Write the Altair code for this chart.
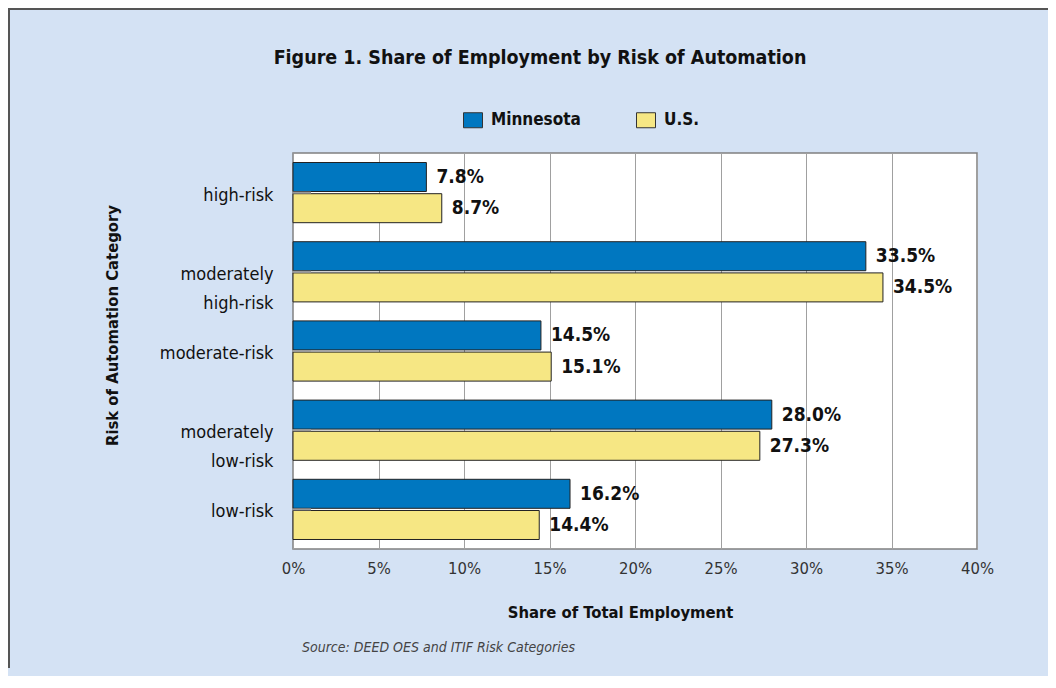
import altair as alt
import pandas as pd

categories = ["high-risk", "moderately high-risk", "moderate-risk", "moderately low-risk", "low-risk"]
series = ["Minnesota", "U.S."]
minnesota = [7.8, 33.5, 14.5, 28.0, 16.2]
us = [8.7, 34.5, 15.1, 27.3, 14.4]
x_ticks = [0, 5, 10, 15, 20, 25, 30, 35, 40]
colors = ["#0077c0", "#f6e784"]

title_text = "Figure 1. Share of Employment by Risk of Automation"
source_text = "Source: DEED OES and ITIF Risk Categories"

rows = []
for c, m, u in zip(categories, minnesota, us):
    rows.append({"category": c, "region": "Minnesota", "share": m})
    rows.append({"category": c, "region": "U.S.", "share": u})
df = pd.DataFrame(rows)

FONT = "Liberation Sans Narrow, DejaVu Sans Condensed, sans-serif"

base = alt.Chart(df)

y_axis = alt.Axis(
    title="Risk of Automation Category", titleFont=FONT, titleFontSize=16.5,
    titleFontWeight="bold", titleColor="#111", titleX=-173, titleY=172,
    labelExpr="split(datum.label, ' ')", labelFont=FONT, labelFontSize=18,
    labelColor="#111", labelLineHeight=29, labelOffset=3, labelPadding=20,
    domain=False, ticks=False, tickSize=0, grid=False,
)
x_axis = alt.Axis(
    values=x_ticks, labelExpr="datum.value + '%'", labelFont=FONT, labelFontSize=16.5,
    labelColor="#333", labelPadding=11, labelFlush=False, ticks=False, tickSize=0,
    domain=False, grid=True, gridColor="#a0a0a0", gridWidth=1,
    title="Share of Total Employment", titleFont=FONT, titleFontSize=16.5,
    titleFontWeight="bold", titleColor="#111", titleX=327, titleY=68,
    titleBaseline="alphabetic",
)

y_enc = alt.Y("category:N", sort=categories,
              scale=alt.Scale(paddingInner=0.24, paddingOuter=0.12), axis=y_axis)
yoff = alt.YOffset("region:N", sort=series,
                   scale=alt.Scale(paddingInner=0.07, paddingOuter=0))

bars = base.mark_bar(stroke="#222", strokeWidth=1).encode(
    x=alt.X("share:Q", scale=alt.Scale(domain=[0, 40], nice=False), axis=x_axis),
    y=y_enc,
    yOffset=yoff,
    fill=alt.Fill("region:N", scale=alt.Scale(domain=series, range=colors),
                  legend=alt.Legend(
                      title=None, orient="none", legendX=170, legendY=-43,
                      direction="horizontal", symbolType="M-1,-0.79H1V0.79H-1Z",
                      symbolSize=361, symbolStrokeColor="#333", symbolStrokeWidth=1,
                      labelFont=FONT, labelFontSize=17, labelFontWeight="bold",
                      labelColor="#111", labelOffset=8, columnPadding=53)),
)

marks = base.transform_filter("datum.region == 'Minnesota'").mark_rule(
    color="#9a9a9a", strokeWidth=2
).encode(
    y=alt.Y("category:N", sort=categories),
    x=alt.value(0), x2=alt.value(18),
)

labels = base.transform_calculate(
    label="format(datum.share, '.1f') + '%'"
).mark_text(
    align="left", baseline="middle", dx=10, font=FONT, fontSize=19,
    fontWeight="bold", color="#111"
).encode(
    x="share:Q",
    y=alt.Y("category:N", sort=categories),
    yOffset=alt.YOffset("region:N", sort=series),
    text="label:N",
)

one = pd.DataFrame({"t": [title_text], "s": [source_text]})

title = alt.Chart(one).mark_text(
    align="center", baseline="alphabetic", font=FONT, fontSize=19.5,
    fontWeight="bold", color="#111"
).encode(x=alt.value(247), y=alt.value(-89), text="t:N")

source = alt.Chart(one).mark_text(
    align="left", baseline="alphabetic", font=FONT, fontSize=14,
    fontStyle="italic", color="#444"
).encode(x=alt.value(9), y=alt.value(499), text="s:N")

frame_top = alt.Chart(one).mark_rule(color="#555", strokeWidth=2).encode(
    x=alt.value(-285), x2=alt.value(755), y=alt.value(-144))
frame_left = alt.Chart(one).mark_rule(color="#555", strokeWidth=2).encode(
    x=alt.value(-284), y=alt.value(-145), y2=alt.value(515))

chart = alt.layer(bars, marks, labels, title, source, frame_top, frame_left).properties(
    width=684, height=396,
    padding={"left": 285, "top": 145, "right": 71, "bottom": 127},
    autosize=alt.AutoSizeParams(type="none"),
    background="#d4e2f4",
).configure_view(fill="white", stroke="#808080", strokeWidth=1.5)

chart.save("out.html", embed_options={"renderer": "svg", "actions": False})
